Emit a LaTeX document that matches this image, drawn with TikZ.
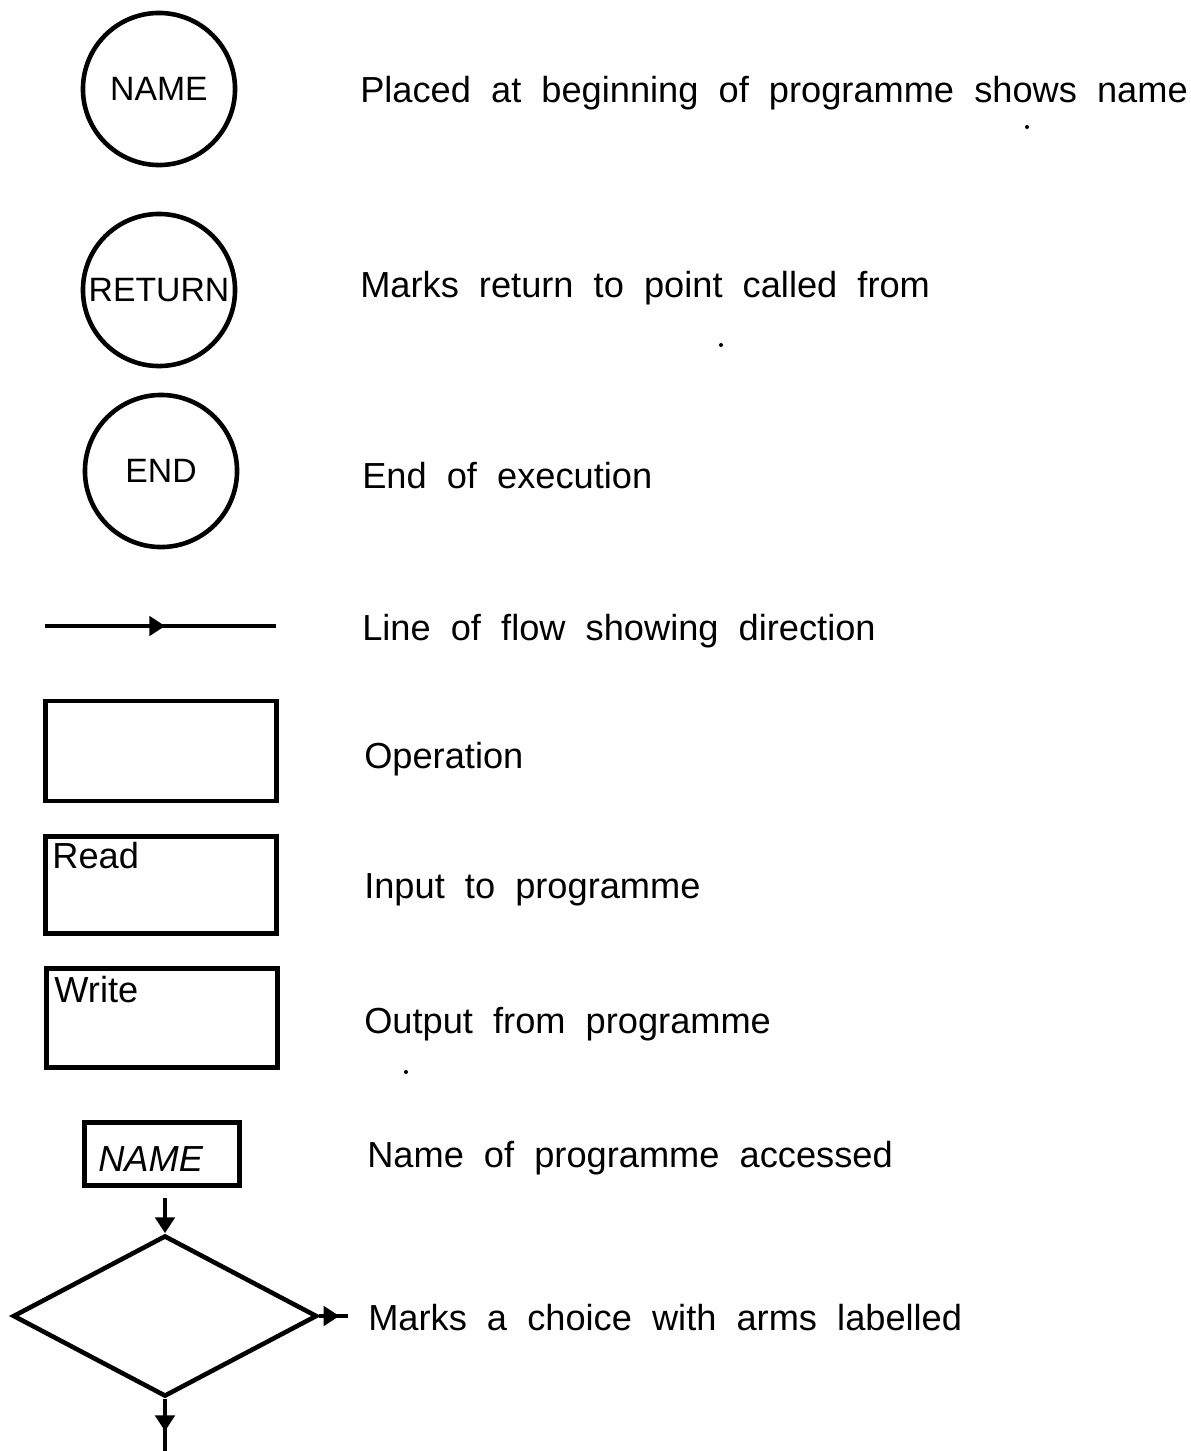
\documentclass[tikz,border=0pt]{standalone}
\usepackage{fontspec}
\setmainfont[WordSpace=2]{Liberation Sans}
\usetikzlibrary{positioning, arrows.meta, shapes.geometric, decorations.markings}

\begin{document}
\begin{tikzpicture}[
    x=0.01cm, y=-0.01cm,
    line width=1.3pt,
    every node/.style={font=\fontsize{10.3}{12}\selectfont},
    term/.style={circle, draw, minimum size=1.52cm, inner sep=0pt, font=\fontsize{9.6}{12}\selectfont},
    opbox/.style={rectangle, draw, minimum width=2.31cm, minimum height=1cm, inner sep=0pt},
    pickbox/.style={diamond, draw, minimum width=3.04cm, minimum height=1.61cm, inner sep=0pt},
    desc/.style={anchor=base west, inner sep=0pt},
    tip/.style={-{Triangle[length=4.5pt,width=5.5pt]}},
    midtip/.style={postaction={decorate}, decoration={markings,
        mark=at position #1 with {\arrow{Triangle[length=4.5pt,width=5.5pt]}}}},
    speck/.style={circle, fill, inner sep=0pt, minimum size=0.04cm}
]
\useasboundingbox (0,0) rectangle (1191,1451);

\node[term] (name) at (159,89) {NAME};
\node[term] (ret) at (159,290) {RETURN};
\node[term] (end) at (161,471) {END};

\coordinate (fl) at (45,626);
\coordinate (fr) at (276,626);
\draw[midtip=0.52] (fl) -- (fr);

\node[opbox] (op) at (161,751) {};
\node[opbox, minimum height=0.97cm] (read) at (161,885) {};
\node[opbox, minimum height=0.99cm] (write) at (162,1018) {};
\node[anchor=north west, inner sep=0pt] (readtxt) at ([shift={(7,6)}]read.north west) {Read};
\node[anchor=north west, inner sep=0pt] (writetxt) at ([shift={(8,8)}]write.north west) {Write};

\node[opbox, minimum width=1.55cm, minimum height=0.63cm] (call) at (162,1154) {};
\node[desc] (calltxt) at (96,1171) {\itshape NAME};

\node[pickbox] (pick) at (165,1316) {};
\coordinate (in) at (165,1198);
\draw[tip] (in) -- (pick.north);
\coordinate (yes) at (348,1316);
\draw[midtip=0.7] (pick.east) -- (yes);
\coordinate (no) at (165,1451);
\draw[midtip=0.62] (pick.south) -- (no);

% what each sign stands for
\node[desc] (d1) at (358,102) {Placed at beginning of programme shows name};
\node[desc] (d2) at (358,297) {Marks return to point called from};
\node[desc] (d3) at (360,488) {End of execution};
\node[desc] (d4) at (360,640) {Line of flow showing direction};
\node[desc] (d5) at (362,768) {Operation};
\node[desc] (d6) at (362,898) {Input to programme};
\node[desc] (d7) at (362,1033) {Output from programme};
\node[desc] (d8) at (365,1167) {Name of programme accessed};
\node[desc] (d9) at (366,1330) {Marks a choice with arms labelled};

\node[speck] (s1) at (1027,127) {};
\node[speck] (s2) at (721,345) {};
\node[speck] (s3) at (406,1072) {};
\end{tikzpicture}
\end{document}
